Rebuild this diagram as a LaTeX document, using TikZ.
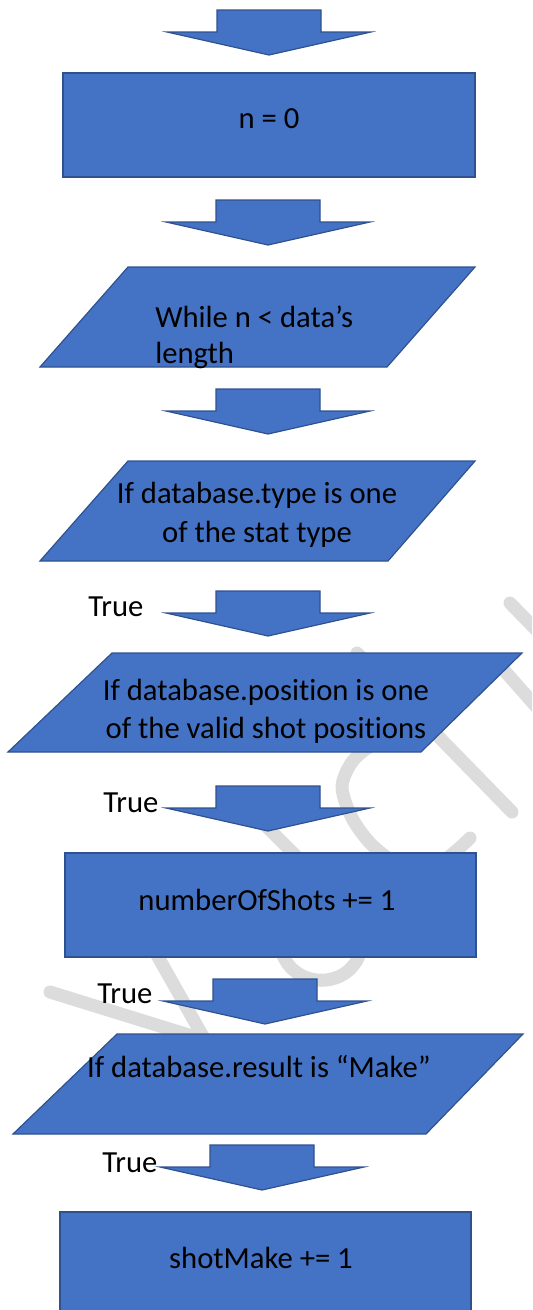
\documentclass[tikz,border=0pt]{standalone}
\usepackage{fontspec}
\setmainfont{Carlito}[Ligatures=NoCommon]
\definecolor{boxfill}{HTML}{4472C4}
\definecolor{boxline}{HTML}{2F528F}
\definecolor{wmgray}{HTML}{DCDCDC}
\tikzset{
  shapebox/.style={fill=boxfill, draw=boxline, line width=0.9pt, line join=miter},
  lbl/.style={font=\fontsize{23}{27}\selectfont, text=black, inner sep=0pt},
  wm/.style={draw=wmgray, line width=9.75pt, line cap=round, line join=round},
  pics/blockarrow/.style={code={
    \path[shapebox] (-52,0) -- (52,0) -- (52,22) -- (102,22) -- (0,45)
      -- (-102,22) -- (-52,22) -- cycle;}}
}
\begin{document}
\begin{tikzpicture}[x=0.75pt,y=-0.75pt]
  \path[use as bounding box] (0,0) rectangle (532,1310);
  \clip (0,0) rectangle (532,1310);

  % faint background lettering
  \draw[wm] (50,992) -- (205,1040);
  \draw[wm] (205,1040) -- (140,925);
  \draw[wm] (255,815) -- (330,890);
  \draw[wm] (280,945) .. controls (288,992) and (355,992) .. (362,945);
  \draw[wm] plot[smooth] coordinates {(470,838) (440,862) (400,864) (372,845)
    (352,818) (342,787) (352,762) (372,745) (400,735)};
  \draw[wm] (357,653) -- (512,812);
  \draw[wm] (510,603) -- (580,675);
  \draw[wm] (495,660) -- (570,745);

  % flowchart blocks
  \pic at (269,10) {blockarrow};
  \path[shapebox] (63,73) rectangle (475,177);
  \node[lbl, anchor=base] (init) at (269,128) {n = 0};

  \pic at (268,200) {blockarrow};
  \path[shapebox] (128,267) -- (475,267) -- (387,367) -- (40,367) -- cycle;
  \node[lbl, anchor=base west] (loop1) at (155,327) {While n < data’s};
  \node[lbl, anchor=base west] (loop2) at (155,363) {length};

  \pic at (268,389) {blockarrow};
  \path[shapebox] (128,461) -- (475,461) -- (388,561) -- (40,561) -- cycle;
  \node[lbl, anchor=base] (type1) at (257,503) {If database.type is one};
  \node[lbl, anchor=base] (type2) at (257,542) {of the stat type};

  \node[lbl, anchor=base west] (true1) at (88,616) {True};
  \pic at (268,591) {blockarrow};
  \path[shapebox] (112,653) -- (522,653) -- (421,752) -- (8,752) -- cycle;
  \node[lbl, anchor=base] (pos1) at (266,700) {If database.position is one};
  \node[lbl, anchor=base] (pos2) at (266,738) {of the valid shot positions};

  \node[lbl, anchor=base west] (true2) at (103,812) {True};
  \pic at (268,786) {blockarrow};
  \path[shapebox] (65,853) rectangle (476,957);
  \node[lbl, anchor=base] (shots) at (267,910) {numberOfShots += 1};

  \node[lbl, anchor=base west] (true3) at (97,1003) {True};
  \pic at (265,979) {blockarrow};
  \path[shapebox] (117,1034) -- (523,1034) -- (426,1134) -- (13,1134) -- cycle;
  \node[lbl, anchor=base] (result) at (259,1077) {If database.result is “Make”};

  \node[lbl, anchor=base west] (true4) at (102,1172) {True};
  \pic at (262,1145) {blockarrow};
  \path[shapebox] (60,1212) rectangle (471,1320);
  \node[lbl, anchor=base] (make) at (261,1268) {shotMake += 1};
\end{tikzpicture}
\end{document}
